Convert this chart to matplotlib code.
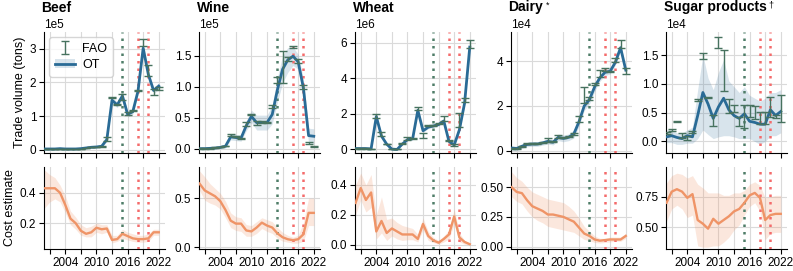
import matplotlib
matplotlib.use("Agg")
import matplotlib.pyplot as plt
from matplotlib.ticker import MultipleLocator, FixedLocator
import numpy as np

plt.rcParams['font.family'] = ['Liberation Sans', 'DejaVu Sans']
plt.rcParams['font.size'] = 8.5

years = list(range(2000, 2023))
titles = ["Beef", "Wine", "Wheat", "Dairy", "Sugar products"]
title_marks = ["", "", "", "*", "\u2020"]
scales = [1e5, 1e5, 1e6, 1e4, 1e4]
green_year = 2015
red_years = [2018, 2020]

# ---------- Trade volume: OT estimate (in units of scale) ----------
beef_ot = [0.02,0.02,0.02,0.03,0.02,0.02,0.02,0.03,0.05,0.07,0.08,0.10,0.30,1.47,1.33,1.60,1.05,1.13,1.74,3.02,2.23,1.76,1.89]
beef_ot_lo = [0.0,0.0,0.0,0.01,0.0,0.0,0.0,0.01,0.03,0.04,0.05,0.06,0.24,1.37,1.25,1.50,0.97,1.05,1.64,2.90,2.13,1.66,1.79]
beef_ot_hi = [0.04,0.04,0.04,0.05,0.04,0.04,0.04,0.05,0.07,0.10,0.11,0.14,0.36,1.57,1.41,1.70,1.13,1.21,1.84,3.14,2.33,1.86,1.99]
wine_ot = [0.0,0.0,0.005,0.01,0.02,0.04,0.19,0.18,0.17,0.37,0.52,0.42,0.42,0.42,0.55,0.95,1.28,1.43,1.49,1.40,0.98,0.21,0.20]
wine_ot_lo = [-0.01,-0.01,-0.005,0.0,0.0,0.01,0.14,0.13,0.12,0.29,0.42,0.30,0.30,0.30,0.40,0.75,1.06,1.23,1.34,1.28,0.83,0.09,0.08]
wine_ot_hi = [0.01,0.01,0.015,0.02,0.04,0.07,0.24,0.23,0.22,0.45,0.62,0.54,0.54,0.54,0.70,1.15,1.50,1.63,1.64,1.52,1.13,0.33,0.32]
wheat_ot = [0.05,0.05,0.05,0.03,1.85,0.75,0.30,0.02,0.0,0.30,0.55,0.60,2.20,1.05,1.25,1.32,1.40,1.60,0.45,0.25,1.10,2.60,5.75]
wheat_ot_lo = [0.0,0.0,0.0,-0.02,1.60,0.65,0.25,-0.01,-0.03,0.25,0.50,0.55,2.05,0.95,1.17,1.24,1.32,1.50,0.39,0.20,1.00,2.45,5.55]
wheat_ot_hi = [0.10,0.10,0.10,0.08,2.10,0.85,0.35,0.05,0.03,0.35,0.60,0.65,2.35,1.15,1.33,1.40,1.48,1.70,0.51,0.30,1.20,2.75,5.95]
dairy_ot = [0.12,0.10,0.20,0.28,0.30,0.30,0.35,0.42,0.38,0.60,0.55,0.60,0.75,1.30,2.00,2.28,2.85,3.25,3.50,3.55,3.95,4.60,3.60]
dairy_ot_lo = [0.02,0.0,0.10,0.18,0.20,0.20,0.25,0.30,0.26,0.45,0.40,0.45,0.57,1.10,1.80,2.08,2.65,3.10,3.35,3.43,3.83,4.45,3.45]
dairy_ot_hi = [0.22,0.20,0.30,0.38,0.40,0.40,0.45,0.54,0.50,0.75,0.70,0.75,0.93,1.50,2.20,2.48,3.05,3.40,3.65,3.67,4.07,4.75,3.75]
sugar_ot = [0.08,0.10,0.07,0.05,0.10,0.08,0.45,0.85,0.65,0.40,0.60,0.75,0.55,0.45,0.40,0.48,0.35,0.33,0.30,0.30,0.55,0.45,0.52]
sugar_ot_lo = [-0.02,-0.02,-0.05,-0.05,-0.03,-0.03,0.05,0.20,0.12,0.05,0.08,0.10,0.10,0.08,0.05,0.05,0.05,0.0,-0.05,0.0,0.10,0.10,0.15]
sugar_ot_hi = [0.20,0.20,0.15,0.15,0.20,0.25,0.90,1.50,1.10,0.90,1.20,1.42,1.05,0.95,0.85,0.95,0.80,0.75,0.70,0.75,0.85,0.85,0.90]

# ---------- Trade volume: FAO ranges (in units of scale) ----------
beef_fao_lo = [0.01,0.01,0.02,0.02,0.01,0.01,0.01,0.02,0.04,0.07,0.08,0.09,0.26,1.54,1.34,1.48,1.04,1.16,1.74,3.08,2.20,1.63,1.78]
beef_fao_hi = [0.03,0.03,0.03,0.03,0.03,0.02,0.02,0.03,0.06,0.08,0.09,0.11,0.38,1.56,1.37,1.65,1.13,1.19,1.77,3.28,2.53,1.80,1.85]
wine_fao_lo = [0.0,0.0,0.0,0.01,0.02,0.04,0.20,0.19,0.15,0.37,0.54,0.38,0.42,0.41,0.66,1.06,1.06,1.41,1.62,1.38,0.96,0.08,0.02]
wine_fao_hi = [0.01,0.01,0.01,0.02,0.03,0.05,0.23,0.21,0.17,0.43,0.56,0.44,0.44,0.43,0.71,1.15,1.57,1.48,1.66,1.45,1.03,0.10,0.04]
wheat_fao_lo = [0.03,0.03,0.03,0.02,1.78,0.78,0.28,0.0,0.0,0.32,0.55,0.60,2.20,0.65,1.30,1.30,1.42,1.60,0.45,0.22,1.25,2.65,5.70]
wheat_fao_hi = [0.07,0.07,0.07,0.05,2.00,0.97,0.33,0.03,0.02,0.38,0.70,0.66,2.38,0.90,1.37,1.35,1.47,1.87,0.52,0.28,2.05,2.90,6.15]
dairy_fao_lo = [0.08,0.10,0.18,0.28,0.28,0.28,0.35,0.40,0.38,0.58,0.58,0.60,0.72,1.30,2.15,2.25,2.92,3.31,3.58,3.52,3.94,4.58,3.42]
dairy_fao_hi = [0.14,0.14,0.23,0.33,0.34,0.33,0.40,0.55,0.43,0.70,0.63,0.68,0.78,1.55,2.85,2.40,3.04,3.62,3.70,3.58,4.12,4.93,3.68]
sugar_fao_lo = [0.13,0.19,0.34,0.06,0.03,0.14,0.70,1.44,0.75,0.27,1.63,0.88,0.49,0.51,0.26,0.23,0.43,0.39,0.30,0.31,0.43,0.40,0.33]
sugar_fao_hi = [0.17,0.21,0.36,0.14,0.09,0.19,0.74,1.53,0.78,0.46,1.82,1.59,0.74,0.64,0.43,0.63,0.63,0.61,0.51,0.51,0.78,0.46,0.80]

# ---------- Cost estimate ----------
beef_cost = [0.43,0.43,0.43,0.40,0.32,0.23,0.20,0.15,0.13,0.14,0.17,0.16,0.165,0.09,0.095,0.13,0.115,0.10,0.095,0.095,0.10,0.14,0.14]
beef_cost_lo = [0.30,0.34,0.36,0.34,0.27,0.19,0.16,0.12,0.11,0.11,0.14,0.13,0.14,0.07,0.08,0.10,0.09,0.08,0.075,0.075,0.08,0.12,0.12]
beef_cost_hi = [0.55,0.52,0.50,0.45,0.38,0.28,0.24,0.19,0.17,0.18,0.20,0.19,0.19,0.12,0.12,0.16,0.14,0.13,0.12,0.12,0.13,0.16,0.16]
wine_cost = [0.65,0.58,0.55,0.52,0.47,0.38,0.27,0.24,0.24,0.17,0.16,0.20,0.25,0.22,0.20,0.14,0.10,0.08,0.07,0.08,0.13,0.35,0.35]
wine_cost_lo = [0.58,0.48,0.45,0.43,0.39,0.30,0.20,0.17,0.16,0.11,0.11,0.14,0.19,0.16,0.14,0.09,0.06,0.05,0.04,0.04,0.06,0.22,0.22]
wine_cost_hi = [0.78,0.72,0.65,0.60,0.55,0.47,0.35,0.31,0.30,0.23,0.22,0.26,0.30,0.28,0.26,0.20,0.15,0.12,0.10,0.12,0.25,0.50,0.50]
wheat_cost = [0.28,0.38,0.30,0.35,0.09,0.16,0.08,0.11,0.09,0.07,0.07,0.07,0.04,0.14,0.06,0.03,0.015,0.04,0.07,0.19,0.05,0.02,0.005]
wheat_cost_lo = [0.20,0.30,0.22,0.25,0.04,0.08,0.03,0.06,0.04,0.03,0.035,0.035,0.02,0.10,0.03,0.015,0.005,0.02,0.04,0.14,0.02,0.005,0.0]
wheat_cost_hi = [0.40,0.48,0.40,0.47,0.20,0.32,0.17,0.18,0.15,0.13,0.12,0.11,0.07,0.18,0.09,0.05,0.03,0.06,0.10,0.24,0.08,0.03,0.01]
dairy_cost = [0.50,0.46,0.45,0.39,0.34,0.32,0.30,0.27,0.27,0.26,0.25,0.23,0.21,0.16,0.11,0.09,0.06,0.05,0.055,0.06,0.06,0.06,0.09]
dairy_cost_lo = [0.42,0.38,0.36,0.30,0.25,0.22,0.20,0.17,0.16,0.15,0.14,0.13,0.12,0.09,0.06,0.05,0.035,0.03,0.035,0.04,0.045,0.045,0.07]
dairy_cost_hi = [0.63,0.58,0.55,0.50,0.46,0.44,0.42,0.40,0.39,0.38,0.37,0.34,0.30,0.24,0.17,0.13,0.09,0.07,0.07,0.08,0.08,0.08,0.11]
sugar_cost = [0.70,0.79,0.81,0.79,0.74,0.77,0.56,0.53,0.49,0.57,0.53,0.56,0.59,0.63,0.65,0.70,0.76,0.78,0.74,0.56,0.60,0.61,0.61]
sugar_cost_lo = [0.55,0.65,0.68,0.65,0.58,0.60,0.35,0.34,0.34,0.35,0.35,0.38,0.42,0.48,0.52,0.60,0.67,0.70,0.63,0.40,0.45,0.46,0.46]
sugar_cost_hi = [0.86,0.92,0.94,0.93,0.90,0.92,0.85,0.82,0.78,0.78,0.78,0.76,0.76,0.78,0.78,0.80,0.85,0.87,0.84,0.74,0.75,0.76,0.76]

ot_mean = [beef_ot, wine_ot, wheat_ot, dairy_ot, sugar_ot]
ot_lo = [beef_ot_lo, wine_ot_lo, wheat_ot_lo, dairy_ot_lo, sugar_ot_lo]
ot_hi = [beef_ot_hi, wine_ot_hi, wheat_ot_hi, dairy_ot_hi, sugar_ot_hi]
fao_lo = [beef_fao_lo, wine_fao_lo, wheat_fao_lo, dairy_fao_lo, sugar_fao_lo]
fao_hi = [beef_fao_hi, wine_fao_hi, wheat_fao_hi, dairy_fao_hi, sugar_fao_hi]
cost_mean = [beef_cost, wine_cost, wheat_cost, dairy_cost, sugar_cost]
cost_lo = [beef_cost_lo, wine_cost_lo, wheat_cost_lo, dairy_cost_lo, sugar_cost_lo]
cost_hi = [beef_cost_hi, wine_cost_hi, wheat_cost_hi, dairy_cost_hi, sugar_cost_hi]

top_ylims = [(-0.1, 3.5), (-0.07, 1.88), (-0.2, 6.6), (-0.1, 5.3), (-0.2, 1.9)]
top_steps = [1, 0.5, 2, 2, 0.5]
bot_ylims = [(0.03, 0.57), (-0.02, 0.82), (-0.027, 0.52), (-0.02, 0.67), (0.325, 0.99)]
bot_steps = [0.2, 0.5, 0.2, 0.25, 0.25]

OT_COLOR = "#2a6b96"
FAO_COLOR = "#47725f"
COST_COLOR = "#ef9467"
GREEN_V = "#4f7d68"
RED_V = "#f46b6b"
GRID = "#dadada"

W, H = 793, 271
fig = plt.figure(figsize=(W / 100, H / 100), dpi=100)
lefts = [44, 199, 355, 511, 666]
aw = 121
top_y0, top_y1 = 32, 153
bot_y0, bot_y1 = 167, 249

xticks = list(range(2001, 2023, 3))
xlabels = [str(t) if t in (2004, 2010, 2016, 2022) else "" for t in xticks]


def style(ax):
    for s in ("top", "right"):
        ax.spines[s].set_visible(False)
    for s in ("left", "bottom"):
        ax.spines[s].set_linewidth(0.8)
    ax.grid(True, color=GRID, linewidth=0.8)
    ax.set_axisbelow(True)
    ax.tick_params(length=3.5, width=0.8, labelsize=8.5, pad=2)
    ax.set_xlim(1999.9, 2023.2)
    ax.xaxis.set_major_locator(FixedLocator(xticks))


for i in range(5):
    x0 = lefts[i] / W
    axt = fig.add_axes([x0, 1 - top_y1 / H, aw / W, (top_y1 - top_y0) / H])
    axb = fig.add_axes([x0, 1 - bot_y1 / H, aw / W, (bot_y1 - bot_y0) / H])
    sc = scales[i]
    yrs = np.array(years)

    # top panel
    style(axt)
    m = np.array(ot_mean[i]) * sc
    band = axt.fill_between(yrs, np.array(ot_lo[i]) * sc, np.array(ot_hi[i]) * sc,
                            color=OT_COLOR, alpha=0.18, linewidth=0, zorder=2)
    line, = axt.plot(yrs, m, color=OT_COLOR, lw=2.0, zorder=3)
    lo = np.array(fao_lo[i]) * sc
    hi = np.array(fao_hi[i]) * sc
    mid = (lo + hi) / 2
    eb = axt.errorbar(yrs, mid, yerr=[mid - lo, hi - mid], fmt='none',
                      ecolor=FAO_COLOR, elinewidth=1.0, capsize=3, capthick=1.0, zorder=4)
    axt.axvline(green_year, color=GREEN_V, ls=(0, (1, 2)), lw=1.8, zorder=2.5)
    for ry in red_years:
        axt.axvline(ry, color=RED_V, ls=(0, (1, 2)), lw=1.8, zorder=2.5)
    axt.set_ylim(top_ylims[i][0] * sc, top_ylims[i][1] * sc)
    axt.yaxis.set_major_locator(MultipleLocator(top_steps[i] * sc))
    axt.ticklabel_format(style='sci', axis='y', scilimits=(0, 0))
    axt.yaxis.get_offset_text().set_fontsize(8.5)
    axt.set_xticklabels([])
    t = axt.text(-0.02, 1.0 + 20.5 / (top_y1 - top_y0), titles[i], transform=axt.transAxes,
                 ha='left', va='baseline', fontweight='bold', fontsize=10)
    if title_marks[i]:
        axt.annotate(title_marks[i], xy=(1, 1), xycoords=t, xytext=(1.5, 0),
                     textcoords='offset points', ha='left', va='top', fontsize=6.5)

    # bottom panel
    style(axb)
    axb.fill_between(yrs, cost_lo[i], cost_hi[i], color=COST_COLOR, alpha=0.22,
                     linewidth=0, zorder=2)
    axb.plot(yrs, cost_mean[i], color=COST_COLOR, lw=1.7, zorder=3)
    axb.axvline(green_year, color=GREEN_V, ls=(0, (1, 2)), lw=1.8, zorder=2.5)
    for ry in red_years:
        axb.axvline(ry, color=RED_V, ls=(0, (1, 2)), lw=1.8, zorder=2.5)
    axb.set_ylim(*bot_ylims[i])
    axb.yaxis.set_major_locator(MultipleLocator(bot_steps[i]))
    axb.set_xticklabels(xlabels)

    if i == 0:
        axt.set_ylabel("Trade volume (tons)", fontsize=9, labelpad=3)
        axb.set_ylabel("Cost estimate", fontsize=9, labelpad=3)
        leg = axt.legend([eb, (band, line)], ["FAO", "OT"], loc='upper left',
                         fontsize=9, frameon=True, fancybox=True, framealpha=0.8,
                         edgecolor="#cccccc", borderaxespad=0.4, handlelength=1.6,
                         handletextpad=0.6, labelspacing=0.35, borderpad=0.45)

fig.savefig("out.png", dpi=100)
